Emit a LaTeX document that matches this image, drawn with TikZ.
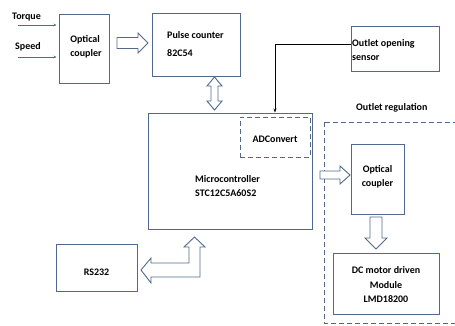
\documentclass[tikz,border=0pt]{standalone}
\usepackage{fontspec}
\setmainfont{Carlito}
\usetikzlibrary{arrows.meta}
\definecolor{bc}{RGB}{80,105,140}
\tikzset{
  blk/.style={draw=bc, line width=1pt, fill=white, inner sep=0pt},
  dbox/.style={draw=bc, line width=1pt, dashed, dash pattern=on 5pt off 3pt},
  harrow/.style={draw=bc, line width=0.9pt, fill=white, line join=miter},
  lbl/.style={font=\bfseries\fontsize{10}{14.5}\selectfont, inner sep=0pt},
  thin/.style={draw=black, line width=0.9pt}
}
\begin{document}
\begin{tikzpicture}[x=1pt,y=-1pt]
\useasboundingbox (0,0) rectangle (455,325);
% outlet regulation region
\begin{scope}
\clip (0,0) rectangle (455,325);
\draw[dbox] (324,122) rectangle (462,323);
\end{scope}
\node[lbl, anchor=west] (orl) at (356,108) {Outlet regulation};
% blocks
\node[blk, minimum width=50pt, minimum height=69pt] (oc1) at (84,48.5) {};
\node[lbl, align=left] (oc1t) at (86,47) {Optical\\coupler};
\node[blk, minimum width=88pt, minimum height=63pt] (pc) at (196,44.5) {};
\node[lbl, anchor=west, align=left, font=\bfseries\fontsize{10}{17.5}\selectfont] (pct) at (167,44) {Pulse counter\\82C54};
\node[blk, minimum width=88pt, minimum height=45pt] (os) at (395,48.5) {};
\node[lbl, anchor=west, align=left] (ost) at (352,50) {Outlet opening\\sensor};
\node[blk, minimum width=164pt, minimum height=116pt] (mcu) at (230,171) {};
\node[lbl, anchor=west, align=left] (mcut) at (195,186) {Microcontroller\\STC12C5A60S2};
\node[dbox, minimum width=70pt, minimum height=40pt, inner sep=0pt] (adc) at (275,137) {};
\node[lbl] (adct) at (275,139.5) {ADConvert};
\node[blk, minimum width=53pt, minimum height=70pt] (oc2) at (377.5,179) {};
\node[lbl, align=center] (oc2t) at (377.5,177) {Optical\\coupler};
\node[blk, minimum width=106pt, minimum height=61pt] (dc) at (386,283.5) {};
\node[lbl, align=center] (dct) at (386,285) {DC motor driven\\Module\\LMD18200};
\node[blk, minimum width=81pt, minimum height=47pt] (rs) at (96.5,267.5) {};
\node[lbl] (rst) at (96.5,272.5) {RS232};
% inputs
\node[lbl, anchor=west] (tq) at (12,17) {Torque};
\node[lbl, anchor=west] (sp) at (15,47) {Speed};
\coordinate (tqs) at (18,25);
\coordinate (sps) at (18,57);
\draw[draw=bc, line width=0.6pt, -{Stealth[length=3pt,width=2.5pt]}] (tqs) -- ([xshift=-2pt]tqs -| oc1.west);
\draw[draw=bc, line width=0.6pt, -{Stealth[length=3pt,width=2.5pt]}] (sps) -- ([xshift=-2pt]sps -| oc1.west);
% sensor line
\coordinate (bend) at (275,44);
\draw[thin, -{Stealth[length=4pt,width=3pt]}] (os.west |- bend) -- (bend) -- (bend |- mcu.north);
% hollow arrows
\draw[harrow] (117,37.5) -- (138,37.5) -- (138,33) -- (148,43) -- (138,53) -- (138,48.5) -- (117,48.5) -- cycle;
\draw[harrow] (214.5,77) -- (222,86) -- (218,86) -- (218,101) -- (222,101) -- (214.5,110) -- (207,101) -- (211,101) -- (211,86) -- (207,86) -- cycle;
\draw[harrow] (320,171) -- (340,171) -- (340,166) -- (350,175) -- (340,184) -- (340,179) -- (320,179) -- cycle;
\draw[harrow] (370,217) -- (382,217) -- (382,238) -- (387,238) -- (376,249) -- (365,238) -- (370,238) -- cycle;
\draw[harrow] (141,270) -- (151,258) -- (151,263) -- (189,263) -- (189,247) -- (184,247) -- (194.5,237) -- (205,247) -- (200,247) -- (200,277) -- (151,277) -- (151,283) -- cycle;
\end{tikzpicture}
\end{document}
